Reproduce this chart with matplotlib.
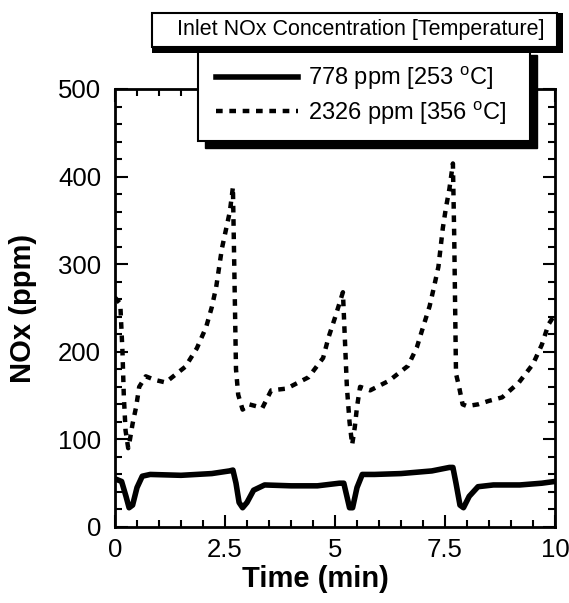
import matplotlib
matplotlib.use('Agg')
import matplotlib.pyplot as plt
from matplotlib.patches import Rectangle

plt.rcParams['font.family'] = ['Liberation Sans', 'DejaVu Sans']
plt.rcParams['mathtext.default'] = 'regular'

# 2326 ppm inlet NOx [356 C] (dashed)
t_hi = [0, 0.12, 0.17, 0.2, 0.24, 0.3, 0.34, 0.4, 0.48, 0.55, 0.7, 0.9, 1.15,
        1.6, 1.86, 2.07, 2.2, 2.3, 2.43, 2.52, 2.61, 2.68, 2.71, 2.75, 2.8,
        2.9, 3.05, 3.35, 3.55, 3.9, 4.4, 4.73, 4.85, 5.0, 5.18, 5.22, 5.27,
        5.33, 5.39, 5.45, 5.5, 5.57, 5.8, 6.23, 6.66, 6.86, 7.0, 7.15, 7.25,
        7.35, 7.45, 7.52, 7.6, 7.68, 7.71, 7.75, 7.82, 7.9, 8.0, 8.25, 8.5,
        8.8, 9.18, 9.5, 9.7, 9.85, 10]
v_hi = [262, 255, 200, 150, 110, 90, 100, 118, 137, 160, 172, 168, 165,
        183, 204, 228, 251, 274, 318, 339, 360, 388, 300, 180, 151,
        134, 140, 136, 156, 158, 171, 193, 216, 239, 268, 220, 160,
        120, 94, 114, 137, 160, 156, 167, 184, 205, 228, 252, 274,
        297, 341, 364, 386, 415, 330, 175, 160, 140, 138, 140, 144,
        148, 165, 186, 208, 231, 243]

# 778 ppm inlet NOx [253 C] (solid)
t_lo = [0, 0.15, 0.25, 0.32, 0.4, 0.5, 0.62, 0.8, 1.5, 2.2, 2.6, 2.68, 2.75,
        2.82, 2.9, 3.0, 3.15, 3.4, 4.0, 4.6, 5.1, 5.2, 5.27, 5.33, 5.4, 5.5,
        5.62, 5.9, 6.5, 7.2, 7.6, 7.68, 7.75, 7.84, 7.92, 8.05, 8.25, 8.6,
        9.2, 9.7, 10]
v_lo = [55, 52, 35, 22, 25, 45, 58, 60, 59, 61, 64, 65, 50,
        28, 22, 28, 42, 48, 47, 47, 50, 50, 35, 22, 22, 45,
        60, 60, 61, 64, 68, 68, 50, 25, 22, 35, 46, 48,
        48, 50, 52]

labels = ['778 ppm [253 $^{o}$C]', '2326 ppm [356 $^{o}$C]']
legend_title = 'Inlet NOx Concentration [Temperature]'

W, H = 569, 603
fig = plt.figure(figsize=(W / 100, H / 100), dpi=100)
ax = fig.add_axes([115 / W, 1 - 527 / H, 440 / W, 438 / H])

l1, = ax.plot(t_lo, v_lo, color='black', lw=4, solid_joinstyle='round')
l2, = ax.plot(t_hi, v_hi, color='black', lw=3.2, dashes=(1.5, 1.5))

ax.set_xlim(0, 10)
ax.set_ylim(0, 500)
ax.set_xticks([0, 2.5, 5, 7.5, 10])
ax.set_xticklabels(['0', '2.5', '5', '7.5', '10'])
ax.set_xticks([i * 0.5 for i in range(21)], minor=True)
ax.set_yticks([0, 100, 200, 300, 400, 500])
ax.set_yticks(range(0, 501, 20), minor=True)
ax.tick_params(which='both', direction='in', top=True, right=True, width=1.5)
ax.tick_params(which='major', length=9, labelsize=18.5, pad=10)
ax.tick_params(axis='x', which='major', pad=8)
ax.tick_params(which='minor', length=5)
for s in ax.spines.values():
    s.set_linewidth(2)

ax.set_xlabel('Time (min)', fontsize=21, fontweight='bold')
ax.set_ylabel('NOx (ppm)', fontsize=21, fontweight='bold')
ax.xaxis.set_label_coords(0.455, -0.087)
ax.yaxis.set_label_coords(-0.178, 0.5)


def box(x0, y0, x1, y1, off=6):
    # pixel box (top-left origin) with a black drop shadow
    fx = lambda x: x / W
    fy = lambda y: 1 - y / H
    sh = Rectangle((fx(x0 + off), fy(y1 + off)), (x1 - x0) / W, (y1 - y0) / H,
                   transform=fig.transFigure, facecolor='black', edgecolor='black',
                   zorder=10, clip_on=False)
    fr = Rectangle((fx(x0), fy(y1)), (x1 - x0) / W, (y1 - y0) / H,
                   transform=fig.transFigure, facecolor='white', edgecolor='black',
                   lw=1.5, zorder=10.5, clip_on=False)
    ax.add_patch(sh)
    ax.add_patch(fr)


# entries box, then title box above it
box(198, 48, 530, 141, off=7)
ax.add_patch(Rectangle((152 / W, 1 - 53 / H), 411 / W, 40 / H,
                       transform=fig.transFigure, facecolor='black',
                       zorder=11, clip_on=False))
ax.add_patch(Rectangle((152 / W, 1 - 47 / H), 405 / W, 34 / H,
                       transform=fig.transFigure, facecolor='white',
                       edgecolor='black', lw=1.5, zorder=11.5, clip_on=False))
ax.text(361 / W, 1 - 30 / H, legend_title, ha='center', va='center',
        fontsize=15.5, zorder=12, transform=fig.transFigure)

leg = ax.legend([l1, l2], labels, loc='center left',
                bbox_to_anchor=(199 / W, 1 - 96 / H),
                bbox_transform=fig.transFigure, frameon=False, fontsize=17,
                handlelength=3.5, handletextpad=0.4, labelspacing=0.3,
                borderpad=0.2)
leg.set_zorder(13)

fig.savefig('out.png', dpi=100)
